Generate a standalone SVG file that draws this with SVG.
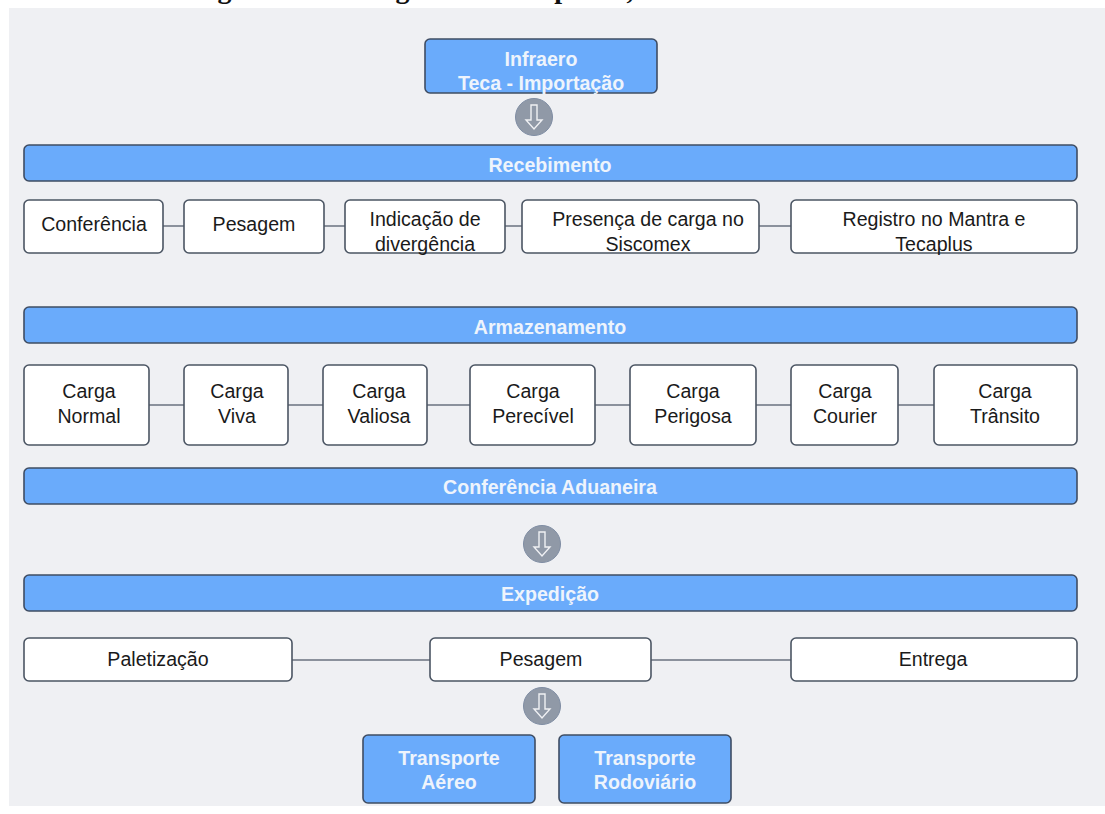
<svg xmlns="http://www.w3.org/2000/svg" width="1105" height="814" viewBox="0 0 1105 814">
<style>
text{font-family:"Liberation Sans",Arial,sans-serif;text-anchor:middle}
.w{fill:#fff;stroke:#4b5563;stroke-width:1.6}
.b{fill:#6aabfb;stroke:#3f4d63;stroke-width:1.6}
.wt{font-size:19.6px;fill:#1a1a1a}
.bt{font-size:19.6px;font-weight:bold;fill:#eef4fc}
.c{stroke:#6b7280;stroke-width:1.6;fill:none}
.o{fill:#9099a7;stroke:#7f8da3;stroke-width:1}
.a{fill:none;stroke:#f0f1f4;stroke-width:1.4}
.cap{font-family:"Liberation Serif","Times New Roman",serif;font-size:28px;font-weight:bold;fill:#111}
</style>
<rect width="1105" height="814" fill="#fff"/>
<g id="caption-cut-off"><text class="cap" x="224.5" y="-2.5">g</text><text class="cap" x="402.5" y="-2.5">g</text><text class="cap" x="562" y="-2.5">p</text><text class="cap" x="630" y="-1">,</text></g>
<rect x="9" y="8" width="1096" height="798" fill="#eff0f3"/>
<g id="connectors">
<path class="c" d="M163 226H184M324 226H345M505 226H522M759 226H791M149 405H184M288 405H323M427 405H470M595 405H630M756 405H791M898 405H934M292 660H430M651 660H791"/>
</g>
<g id="arrows">
<g id="arrow1"><circle class="o" cx="534" cy="117" r="18.5"/><path class="a" d="M531 105h6v15h5l-8 9-8-9h5z"/></g>
<g id="arrow2"><circle class="o" cx="542" cy="544" r="18.5"/><path class="a" d="M539 532h6v15h5l-8 9-8-9h5z"/></g>
<g id="arrow3"><circle class="o" cx="542" cy="706" r="18.5"/><path class="a" d="M539 694h6v15h5l-8 9-8-9h5z"/></g>
</g>
<g id="infraero"><rect class="b" x="425" y="39" width="232" height="54" rx="5"/><text class="bt" x="541" y="66">Infraero</text><text class="bt" x="541" y="90">Teca - Importação</text></g>
<g id="recebimento"><rect class="b" x="24" y="145" width="1053" height="36" rx="5"/><text class="bt" x="550" y="172">Recebimento</text></g>
<g id="n1"><rect class="w" x="24" y="200" width="139" height="53" rx="5"/><text class="wt" x="94" y="231">Conferência</text></g>
<g id="n2"><rect class="w" x="184" y="200" width="140" height="53" rx="5"/><text class="wt" x="254" y="231">Pesagem</text></g>
<g id="n3"><rect class="w" x="345" y="200" width="160" height="53" rx="5"/><text class="wt" x="425" y="226">Indicação de</text><text class="wt" x="425" y="251">divergência</text></g>
<g id="n4"><rect class="w" x="522" y="200" width="237" height="53" rx="5"/><text class="wt" x="648" y="226">Presença de carga no</text><text class="wt" x="648" y="251">Siscomex</text></g>
<g id="n5"><rect class="w" x="791" y="200" width="286" height="53" rx="5"/><text class="wt" x="934" y="226">Registro no Mantra e</text><text class="wt" x="934" y="251">Tecaplus</text></g>
<g id="armazenamento"><rect class="b" x="24" y="307" width="1053" height="36" rx="5"/><text class="bt" x="550" y="334">Armazenamento</text></g>
<g id="c1"><rect class="w" x="24" y="365" width="125" height="80" rx="5"/><text class="wt" x="89" y="398">Carga</text><text class="wt" x="89" y="423">Normal</text></g>
<g id="c2"><rect class="w" x="184" y="365" width="104" height="80" rx="5"/><text class="wt" x="237" y="398">Carga</text><text class="wt" x="237" y="423">Viva</text></g>
<g id="c3"><rect class="w" x="323" y="365" width="104" height="80" rx="5"/><text class="wt" x="379" y="398">Carga</text><text class="wt" x="379" y="423">Valiosa</text></g>
<g id="c4"><rect class="w" x="470" y="365" width="125" height="80" rx="5"/><text class="wt" x="533" y="398">Carga</text><text class="wt" x="533" y="423">Perecível</text></g>
<g id="c5"><rect class="w" x="630" y="365" width="126" height="80" rx="5"/><text class="wt" x="693" y="398">Carga</text><text class="wt" x="693" y="423">Perigosa</text></g>
<g id="c6"><rect class="w" x="791" y="365" width="107" height="80" rx="5"/><text class="wt" x="845" y="398">Carga</text><text class="wt" x="845" y="423">Courier</text></g>
<g id="c7"><rect class="w" x="934" y="365" width="143" height="80" rx="5"/><text class="wt" x="1005" y="398">Carga</text><text class="wt" x="1005" y="423">Trânsito</text></g>
<g id="conferencia"><rect class="b" x="24" y="468" width="1053" height="36" rx="5"/><text class="bt" x="550" y="494">Conferência Aduaneira</text></g>
<g id="expedicao"><rect class="b" x="24" y="575" width="1053" height="36" rx="5"/><text class="bt" x="550" y="601">Expedição</text></g>
<g id="e1"><rect class="w" x="24" y="638" width="268" height="43" rx="5"/><text class="wt" x="158" y="666">Paletização</text></g>
<g id="e2"><rect class="w" x="430" y="638" width="221" height="43" rx="5"/><text class="wt" x="541" y="666">Pesagem</text></g>
<g id="e3"><rect class="w" x="791" y="638" width="286" height="43" rx="5"/><text class="wt" x="933" y="666">Entrega</text></g>
<g id="t1"><rect class="b" x="363" y="735" width="172" height="68" rx="5"/><text class="bt" x="449" y="765">Transporte</text><text class="bt" x="449" y="789">Aéreo</text></g>
<g id="t2"><rect class="b" x="559" y="735" width="172" height="68" rx="5"/><text class="bt" x="645" y="765">Transporte</text><text class="bt" x="645" y="789">Rodoviário</text></g>
</svg>
